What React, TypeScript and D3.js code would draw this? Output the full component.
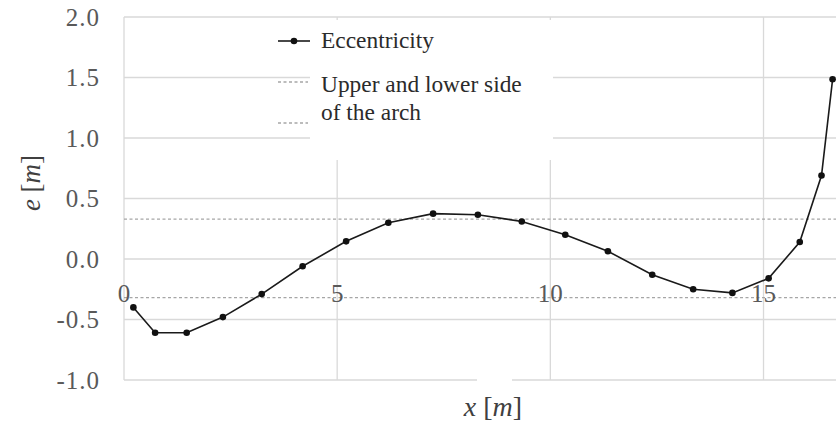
import * as d3 from "d3";

const xValues = [0.22, 0.73, 1.47, 2.32, 3.23, 4.19, 5.21, 6.2, 7.25, 8.3, 9.33, 10.35, 11.35, 12.39, 13.35, 14.27, 15.12, 15.85, 16.36, 16.62];
const eValues = [-0.4, -0.61, -0.61, -0.48, -0.29, -0.06, 0.146, 0.3, 0.375, 0.366, 0.31, 0.2, 0.064, -0.13, -0.25, -0.28, -0.16, 0.14, 0.69, 1.485];
const archSides = [0.33, -0.32];
const xTicks = [0, 5, 10, 15];
const yTicks = [-1.0, -0.5, 0.0, 0.5, 1.0, 1.5, 2.0];

export default function App() {
  const width = 836;
  const height = 428;
  const margin = { top: 17, right: 0, bottom: 48, left: 124 };
  const x = d3.scaleLinear().domain([0, 16.7]).range([margin.left, width - margin.right]);
  const y = d3.scaleLinear().domain([-1, 2]).range([height - margin.bottom, margin.top]);
  const points = xValues.map((v, i) => [v, eValues[i]] as [number, number]);
  const line = d3
    .line<[number, number]>()
    .x((d) => x(d[0]))
    .y((d) => y(d[1]));

  const font = '"Liberation Serif", "DejaVu Serif", serif';
  const grid = "#d9d9d9";

  return (
    <div style={{ position: "fixed", left: 0, top: 0 }}>
      <svg width={width} height={height} style={{ display: "block", background: "#fff", fontFamily: font }}>
        {yTicks.map((t) => (
          <line key={`gy-${t}`} x1={x(0)} x2={width} y1={y(t)} y2={y(t)} stroke={grid} strokeWidth={1.3} />
        ))}
        {xTicks.map((t) => (
          <line key={`gx-${t}`} x1={x(t)} x2={x(t)} y1={y(2)} y2={y(-1)} stroke={grid} strokeWidth={1.3} />
        ))}
        {/* legend box covers the grid */}
        <rect x={310} y={y(2) + 3} width={243} height={140} fill="#fff" />
        {/* gap in bottom border under axis title */}
        <rect x={477} y={y(-1) - 2} width={35} height={4} fill="#fff" />

        {archSides.map((v) => (
          <line
            key={`arch-${v}`}
            x1={x(0)}
            x2={width}
            y1={y(v)}
            y2={y(v)}
            stroke="#a6a6a6"
            strokeWidth={1.3}
            strokeDasharray="3 2.5"
          />
        ))}

        {yTicks.map((t) => (
          <text
            key={`yl-${t}`}
            x={100}
            y={y(t)}
            dy="0.35em"
            textAnchor="end"
            fontSize={25}
            letterSpacing={1}
            fill="#595959"
          >
            {t.toFixed(1)}
          </text>
        ))}
        {xTicks.map((t) => (
          <text
            key={`xl-${t}`}
            x={x(t)}
            y={y(-0.28)}
            dy="0.35em"
            textAnchor="middle"
            fontSize={25}
            fill="#595959"
          >
            {t}
          </text>
        ))}

        <path d={line(points) ?? ""} fill="none" stroke="#1a1a1a" strokeWidth={1.6} />
        {points.map((p, i) => (
          <circle key={`pt-${i}`} cx={x(p[0])} cy={y(p[1])} r={3.3} fill="#111" />
        ))}

        {/* legend */}
        <g fontSize={23.4} fill="#2b2b2b">
          <line x1={278} x2={310} y1={41} y2={41} stroke="#1a1a1a" strokeWidth={1.6} />
          <circle cx={294} cy={41} r={3.3} fill="#111" />
          <text x={321} y={48}>Eccentricity</text>
          <line x1={278} x2={308} y1={82} y2={82} stroke="#a6a6a6" strokeWidth={1.3} strokeDasharray="3 2.5" />
          <line x1={278} x2={308} y1={123} y2={123} stroke="#a6a6a6" strokeWidth={1.3} strokeDasharray="3 2.5" />
          <text x={321} y={92}>Upper and lower side</text>
          <text x={321} y={120}>of the arch</text>
        </g>

        {/* axis titles */}
        <text x={493} y={416} textAnchor="middle" fontSize={28} fill="#404040">
          <tspan fontStyle="italic">x</tspan> [<tspan fontStyle="italic">m</tspan>]
        </text>
        <text
          transform={`translate(40, 183) rotate(-90)`}
          textAnchor="middle"
          fontSize={27}
          fill="#404040"
        >
          <tspan fontStyle="italic">e</tspan> [<tspan fontStyle="italic">m</tspan>]
        </text>
      </svg>
    </div>
  );
}
